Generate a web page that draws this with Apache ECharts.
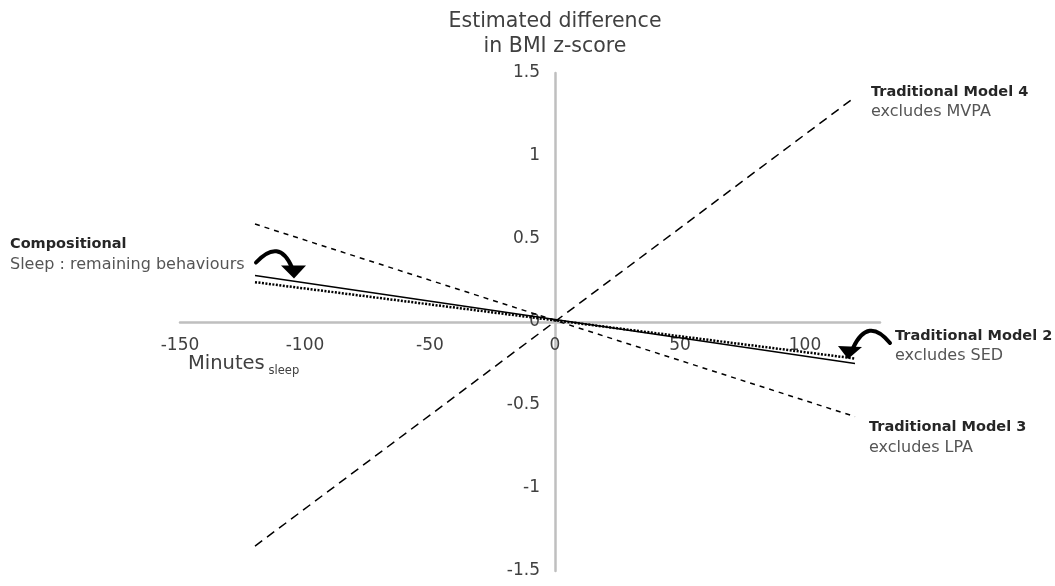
<!DOCTYPE html>
<html>
<head>
<meta charset="utf-8">
<script src="https://cdn.jsdelivr.net/npm/echarts@6/dist/echarts.min.js"></script>
<style>html,body{margin:0;padding:0;background:#fff}#c{width:1055px;height:586px}</style>
</head>
<body>
<div id="c"></div>
<script>
// Data (x = minutes of sleep, y = estimated difference in BMI z-score)
const minutes = [-120, 120];
const model4 = [-1.35, 1.355];     // Traditional Model 4, excludes MVPA
const model3 = [0.59, -0.57];      // Traditional Model 3, excludes LPA
const compositional = [0.28, -0.25]; // Compositional
const model2 = [0.24, -0.22];      // Traditional Model 2, excludes SED
const xTicks = [-150, -100, -50, 0, 50, 100];
const yTicks = [-1.5, -1, -0.5, 0, 0.5, 1, 1.5];
const xMax = 130;

const FONT = 'DejaVu Sans';
const pairs = (ys) => minutes.map((x, i) => [x, ys[i]]);

// layout
const W = 1055, H = 586;
const G = { left: 180, right: 175, top: 73, bottom: 15 };
const gw = W - G.left - G.right, gh = H - G.top - G.bottom;
const yMin = yTicks[0], yMax = yTicks[yTicks.length - 1];
const yAxisShift = gw * (0 - xTicks[0]) / (xMax - xTicks[0]);   // px from grid left to x=0
const xAxisShift = gh * (0 - yMin) / (yMax - yMin);             // px from grid bottom to y=0

const chart = echarts.init(document.getElementById('c'));
const lineSeries = (name, ys, dash, width) => ({
  name, type: 'line', data: pairs(ys), symbol: 'none', silent: true,
  lineStyle: { color: '#000', width: width, type: dash || 'solid' }, z: 3
});

chart.setOption({
  animation: false,
  backgroundColor: '#fff',
  grid: Object.assign({ outerBoundsMode: 'none' }, G),
  xAxis: {
    type: 'value', min: xTicks[0], max: xMax, interval: 50,
    position: 'bottom', offset: -xAxisShift,
    axisLine: { onZero: false, lineStyle: { color: '#bfbfbf', width: 2.5 } },
    axisTick: { show: false },
    splitLine: { show: false },
    axisLabel: { showMaxLabel: false, margin: 15, color: '#404040', fontFamily: FONT, fontSize: 17 }
  },
  yAxis: {
    type: 'value', min: yMin, max: yMax, interval: 0.5,
    position: 'left', offset: -yAxisShift,
    axisLine: { onZero: false, lineStyle: { color: '#bfbfbf', width: 2.5 } },
    axisTick: { show: false },
    splitLine: { show: false },
    axisLabel: { margin: 15, color: '#404040', fontFamily: FONT, fontSize: 17 }
  },
  series: [
    lineSeries('Traditional Model 4', model4, [9, 6], 1.5),
    lineSeries('Traditional Model 3', model3, [5, 5], 1.5),
    lineSeries('Compositional', compositional, null, 1.5),
    lineSeries('Traditional Model 2', model2, [2, 1.5], 2.5)
  ]
});

// Annotations, anchored to data coordinates
function px(x, y) { return chart.convertToPixel({ gridIndex: 0 }, [x, y]); }
const bold = { fontFamily: FONT, fontWeight: 'bold', fontSize: 14.5, fill: '#262626' };
const reg = { fontFamily: FONT, fontSize: 16, fill: '#555' };
function label(x, y, title, sub) {
  return [
    { type: 'text', x: x, y: y, style: Object.assign({ text: title, textVerticalAlign: 'middle' }, bold) },
    { type: 'text', x: x, y: y + 20, style: Object.assign({ text: sub, textVerticalAlign: 'middle' }, reg) }
  ];
}
const p4 = px(minutes[1], model4[1]);
const p3 = px(minutes[1], model3[1]);
const p2 = px(minutes[1], model2[1]);
const pc = px(minutes[0], compositional[0]);
const o = px(0, 0);

function arrow(ox, oy, curve, head) {
  return { type: 'group', x: ox, y: oy, z: 10, children: [
    { type: 'bezierCurve', shape: curve, style: { stroke: '#000', lineWidth: 4, fill: null, lineCap: 'round' } },
    { type: 'polygon', shape: { points: head }, style: { fill: '#000' } }
  ] };
}

const elements = [
  { type: 'text', x: o[0], y: 22, style: { text: 'Estimated difference', fontFamily: FONT, fontSize: 20.5, fill: '#404040', textAlign: 'center', textVerticalAlign: 'middle' } },
  { type: 'text', x: o[0], y: 47, style: { text: 'in BMI z-score', fontFamily: FONT, fontSize: 20.5, fill: '#404040', textAlign: 'center', textVerticalAlign: 'middle' } },
  { type: 'text', x: 188, y: o[1] + 42, style: {
      text: '{a|Minutes} {b|sleep}', fontFamily: FONT, fill: '#404040', textVerticalAlign: 'middle',
      rich: { a: { fontFamily: FONT, fontSize: 19.5, color: '#404040' }, b: { fontFamily: FONT, fontSize: 11.5, color: '#404040', padding: [14, 0, 0, 0] } }
  } },
  ...label(p4[0] + 16, p4[1] - 5, 'Traditional Model 4', 'excludes MVPA'),
  ...label(p2[0] + 40, o[1] + 14, 'Traditional Model 2', 'excludes SED'),
  ...label(p3[0] + 14, p3[1] + 11, 'Traditional Model 3', 'excludes LPA'),
  ...label(10, pc[1] - 31, 'Compositional', 'Sleep : remaining behaviours'),
  arrow(pc[0] + 1, pc[1] - 13, { x1: 0, y1: 0, cpx1: 23, cpy1: -25, x2: 36, y2: 5 }, [[25, 3], [50, 3], [38, 16]]),
  arrow(p2[0] + 35, o[1] + 21, { x1: 0, y1: 0, cpx1: -22, cpy1: -27, x2: -37, y2: 5 }, [[-52, 3], [-28, 4], [-42, 16]])
];
chart.setOption({ graphic: { elements } });
</script>
</body>
</html>
